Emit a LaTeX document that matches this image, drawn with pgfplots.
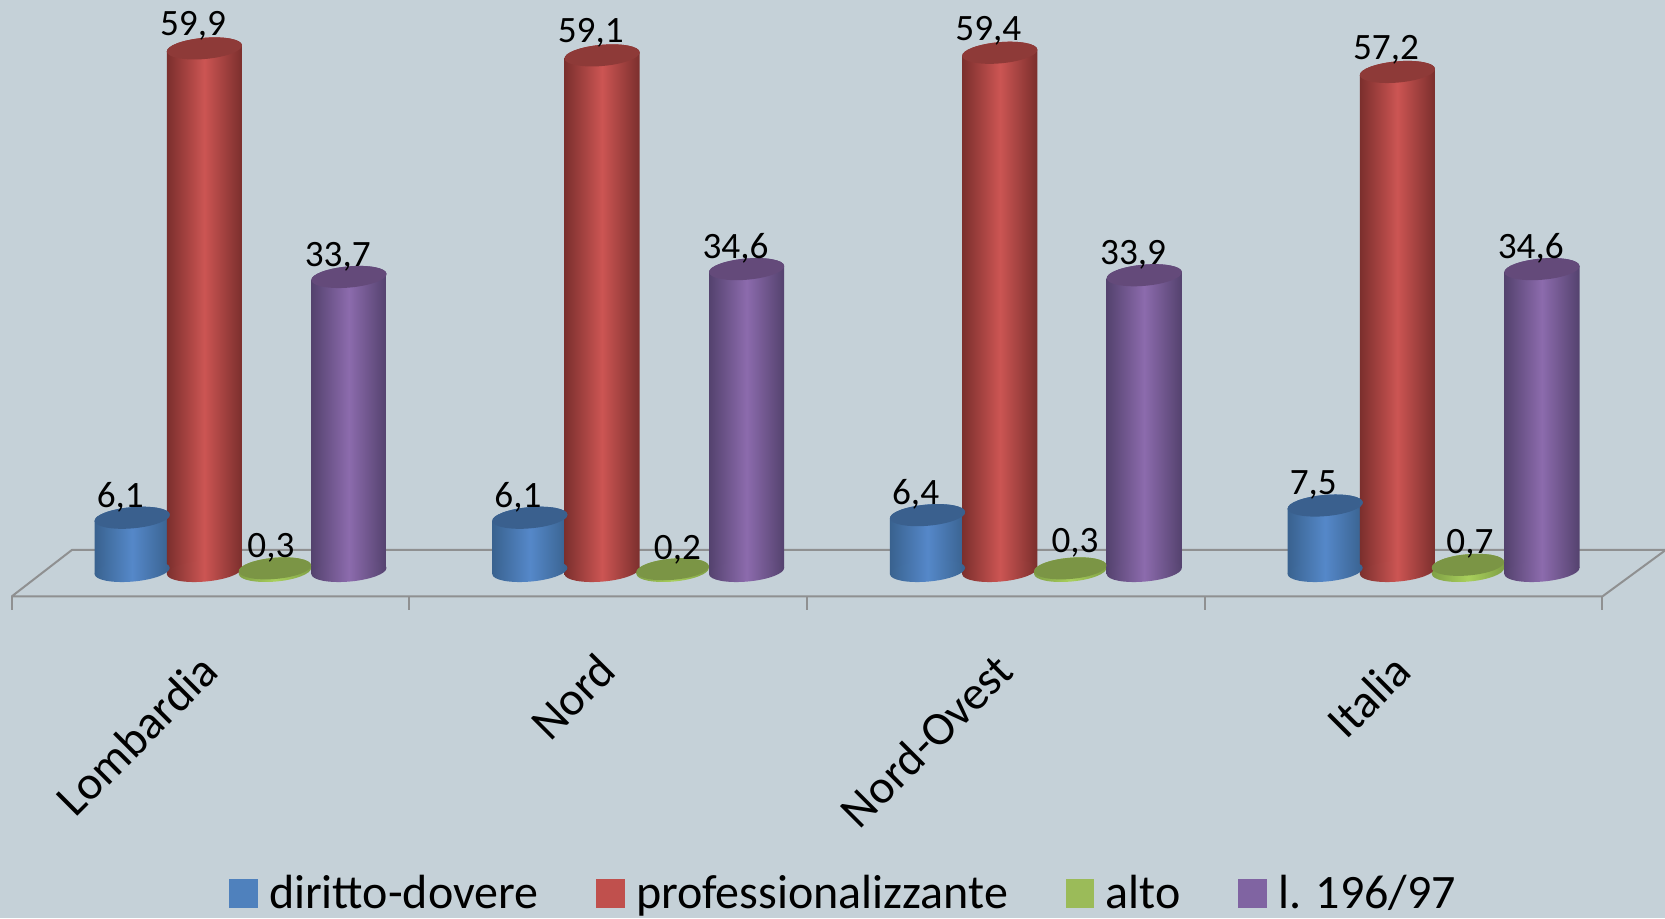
\documentclass[border=0pt]{standalone}
\usepackage{pgfplots}
\usepackage{pgfplotstable}
\usepackage{fontspec}
\usetikzlibrary{shapes.geometric}
\setmainfont{Carlito}
\pgfplotsset{compat=1.18}
\definecolor{bg}{HTML}{C5D1D8}
\definecolor{flo}{HTML}{8F9091}
\definecolor{bE}{HTML}{39628F}\definecolor{bM}{HTML}{5588C9}\definecolor{bT}{HTML}{3A608E}
\definecolor{rE}{HTML}{7B2F2D}\definecolor{rM}{HTML}{CC5553}\definecolor{rT}{HTML}{8E3A38}
\definecolor{gE}{HTML}{7F9F45}\definecolor{gM}{HTML}{A9D05C}\definecolor{gT}{HTML}{7B9545}
\definecolor{pE}{HTML}{54426E}\definecolor{pM}{HTML}{8C6BAD}\definecolor{pT}{HTML}{644A7A}
\definecolor{lb}{HTML}{4F81BD}\definecolor{lr}{HTML}{C0504D}\definecolor{lg}{HTML}{9BBB59}\definecolor{lp}{HTML}{8064A2}
\tikzset{blueS/.style={left color=bE,right color=bE,middle color=bM},
 redS/.style={left color=rE,right color=rE,middle color=rM},
 greenS/.style={left color=gE,right color=gE,middle color=gM,minimum width=36.3pt},
 purpleS/.style={left color=pE,right color=pE,middle color=pM},
 lbl/.style={anchor=center,font=\fontsize{18.6pt}{20pt}\selectfont,text=black,inner sep=0pt},
 capnode/.style={shape=ellipse,anchor=center,rotate=5,minimum width=37.7pt,minimum height=10.6pt,inner sep=0pt,outer sep=0pt}}
\pgfplotstableread{
x y v
-0.227 8.5 6.1
0.773 8.5 6.1
1.773 8.8 6.4
2.773 9.9 7.5
}\bluelabels
\pgfplotstableread{
x y v
-0.044 62.45 59.9
0.956 61.65 59.1
1.956 61.95 59.4
2.956 59.75 57.2
}\redlabels
\pgfplotstableread{
x y v
0.152 2.62 0.3
1.174 2.38 0.2
2.174 3.23 0.3
3.167 3.11 0.7
}\greenlabels
\pgfplotstableread{
x y v
0.32 36.05 33.7
1.32 36.95 34.6
2.32 36.25 33.9
3.32 36.95 34.6
}\purplelabels
% #1 x, #2 value, #3 shading style, #4 top colour options, #5 body width
\newcommand\cylcap[3]{%
 \addplot[forget plot,draw=none,mark=none,nodes near coords={\relax},nodes near coords style={capnode,#3}] coordinates {(#1,#2)};
}
\newcommand\cyl[5]{%
 \cylcap{#1}{0}{#3}
 \pgfmathsetmacro\xl{#1-#5/2}\pgfmathsetmacro\xr{#1+#5/2}
 \pgfmathsetmacro\yl{#2-0.346}\pgfmathsetmacro\yr{#2+0.346}
 \addplot[forget plot,draw=none,mark=none,#3] coordinates {(\xl,-0.346) (\xl,\yl) (\xr,\yr) (\xr,0.346)} -- cycle;
 \cylcap{#1}{#2}{#3}
 \cylcap{#1}{#2}{fill=#4}
}
\newcommand\lab[1]{%
 \addplot[forget plot,draw=none,mark=none,point meta=\thisrow{v},nodes near coords,nodes near coords style={lbl}]
   table[x=x,y=y] {#1};
}
\begin{document}
\begin{tikzpicture}
\begin{axis}[
 name=ax,
 scale only axis,width=832.5pt,height=459pt,
 xmin=-0.5294,xmax=3.6575,ymin=-39.78,ymax=65.45,
 axis background/.style={fill=bg},
 axis line style={draw=none},
 tick style={draw=none},
 axis x line=bottom, axis y line=left,
 ytick=\empty,
 xtick={0,1,2,3},
 xticklabels={Lombardia,Nord,Nord-Ovest,Italia},
 xticklabel style={xshift=-0.6pt,yshift=130pt,rotate=45,anchor=east,inner sep=0pt,
   font=\fontsize{23.7pt}{25pt}\selectfont},
 /pgf/number format/.cd,use comma,fixed,fixed zerofill,precision=1,assume math mode=true,
 /pgfplots/.cd,
 legend columns=4,
 legend style={at={(0.5074,0.0266)},anchor=center,draw=none,fill=none,
   font=\fontsize{24pt}{26pt}\selectfont,inner sep=0pt,
   /tikz/every even column/.append style={column sep=27pt},
   /tikz/every odd column/.append style={column sep=4pt}},
 legend cell align=left,
]
\addlegendimage{only marks,mark=square*,mark size=6.9pt,mark options={draw=lb,fill=lb}}
\addlegendimage{only marks,mark=square*,mark size=6.9pt,mark options={draw=lr,fill=lr}}
\addlegendimage{only marks,mark=square*,mark size=6.9pt,mark options={draw=lg,fill=lg}}
\addlegendimage{only marks,mark=square*,mark size=6.9pt,mark options={draw=lp,fill=lp}}
\addlegendentry{diritto-dovere}
\addlegendentry{professionalizzante}
\addlegendentry{alto}
\addlegendentry{l. 196/97}
% floor
\addplot[forget plot,flo,line width=1pt] coordinates {(-0.5,-2.92) (3.5,-2.92) (3.66,2.43) (-0.348,2.43) (-0.5,-2.92)};
\addplot[forget plot,flo,line width=1pt] coordinates {(-0.5,-2.92) (-0.5,-4.5)};
\addplot[forget plot,flo,line width=1pt] coordinates {(0.5,-2.92) (0.5,-4.5)};
\addplot[forget plot,flo,line width=1pt] coordinates {(1.5,-2.92) (1.5,-4.5)};
\addplot[forget plot,flo,line width=1pt] coordinates {(2.5,-2.92) (2.5,-4.5)};
\addplot[forget plot,flo,line width=1pt] coordinates {(3.5,-2.92) (3.5,-4.5)};
% cylinders
\cyl{-0.197}{6.1}{blueS}{bT}{0.1889}
\cyl{-0.0154}{59.9}{redS}{rT}{0.1889}
\cyl{0.162}{0.3}{greenS}{gT,minimum width=36.3pt}{0.1818}
\cyl{0.348}{33.7}{purpleS}{pT}{0.1889}
\cyl{0.803}{6.1}{blueS}{bT}{0.1889}
\cyl{0.9846}{59.1}{redS}{rT}{0.1889}
\cyl{1.162}{0.2}{greenS}{gT,minimum width=36.3pt}{0.1818}
\cyl{1.348}{34.6}{purpleS}{pT}{0.1889}
\cyl{1.803}{6.4}{blueS}{bT}{0.1889}
\cyl{1.9846}{59.4}{redS}{rT}{0.1889}
\cyl{2.162}{0.3}{greenS}{gT,minimum width=36.3pt}{0.1818}
\cyl{2.348}{33.9}{purpleS}{pT}{0.1889}
\cyl{2.803}{7.5}{blueS}{bT}{0.1889}
\cyl{2.9846}{57.2}{redS}{rT}{0.1889}
\cyl{3.162}{0.7}{greenS}{gT,minimum width=36.3pt}{0.1818}
\cyl{3.348}{34.6}{purpleS}{pT}{0.1889}
\lab{\bluelabels}
\lab{\redlabels}
\lab{\greenlabels}
\lab{\purplelabels}
\end{axis}
\pgfresetboundingbox
\path[use as bounding box] (ax.south west) rectangle (ax.north east);
\end{tikzpicture}
\end{document}
